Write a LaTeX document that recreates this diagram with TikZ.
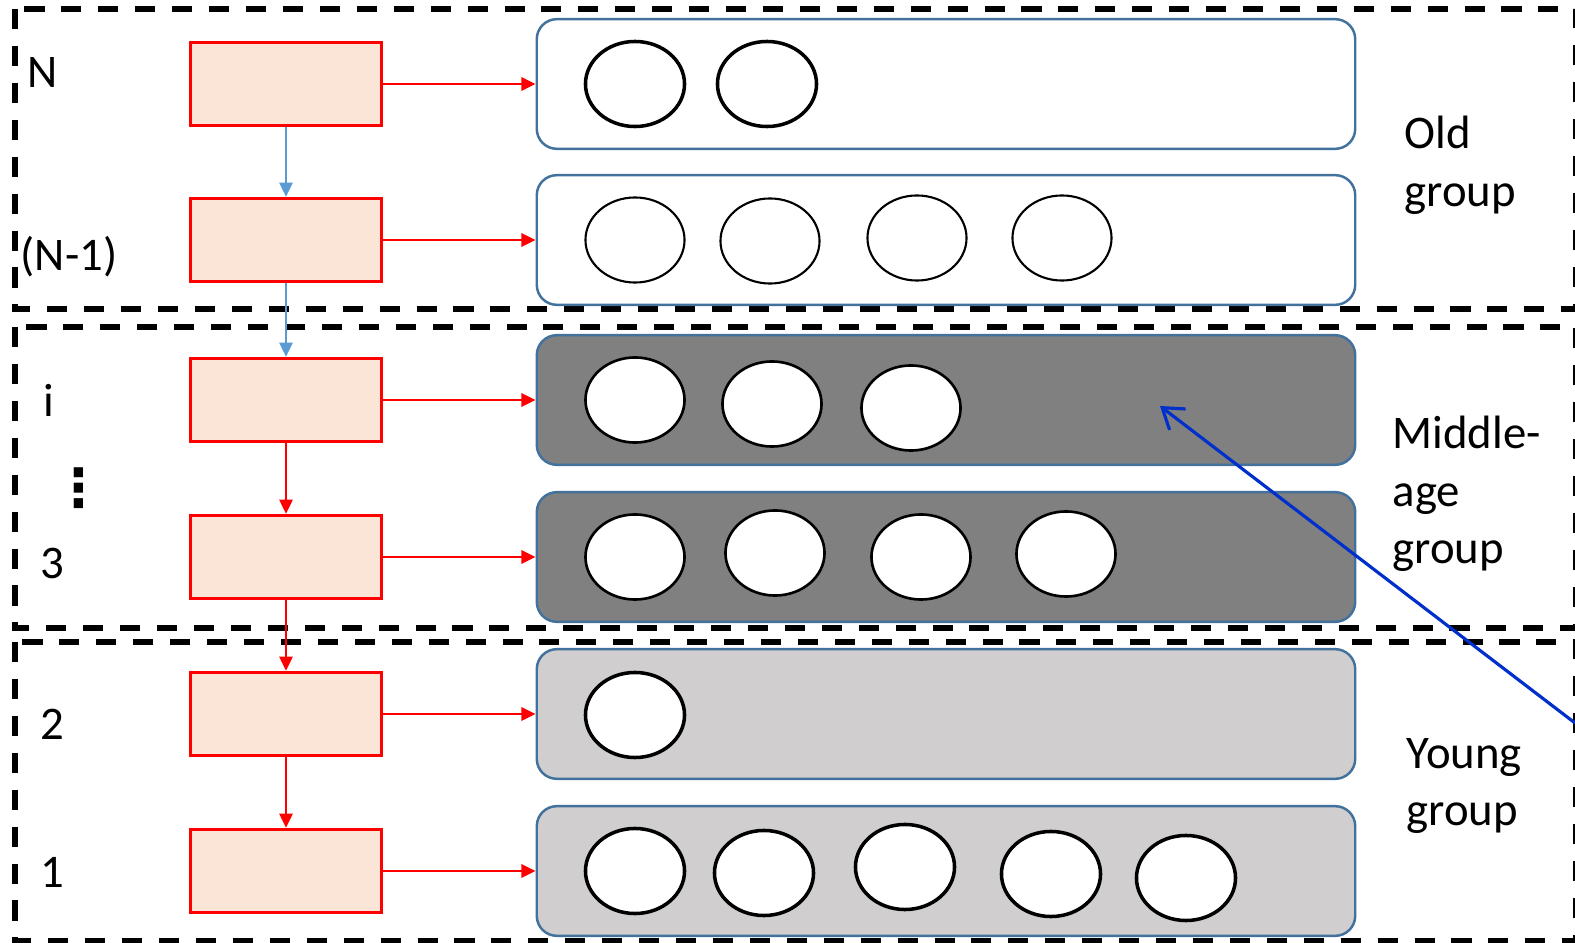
\documentclass[tikz,border=0pt]{standalone}
\usepackage{fontspec}
\setmainfont{Carlito}
\newfontfamily\symfont{DejaVu Sans}
\usetikzlibrary{arrows.meta,shapes.geometric}
\definecolor{boxfill}{RGB}{251,229,214}
\definecolor{rowborder}{RGB}{65,113,156}
\definecolor{midgray}{RGB}{128,128,128}
\definecolor{younggray}{RGB}{208,206,206}
\definecolor{vblue}{RGB}{91,155,213}
\definecolor{longblue}{RGB}{0,48,204}
\begin{document}
\begin{tikzpicture}[x=0.01cm,y=-0.01cm,
  grpbox/.style={draw=black,line width=1.45pt,dash pattern=on 5.7pt off 4.8pt},
  redbox/.style={draw=red,fill=boxfill,line width=0.85pt,minimum width=1.91cm,minimum height=0.835cm,inner sep=0pt},
  rowbox/.style={draw=rowborder,line width=0.7pt,rounded corners=5.7pt,minimum width=8.18cm,minimum height=1.296cm,inner sep=0pt},
  oldrow/.style={rowbox,fill=white},
  midrow/.style={rowbox,fill=midgray},
  youngrow/.style={rowbox,fill=younggray},
  cell/.style={ellipse,draw=black,fill=white,minimum width=0.99cm,minimum height=0.85cm,inner sep=0pt,line width=0.75pt},
  thickcell/.style={cell,line width=1pt},
  thincell/.style={cell,line width=0.6pt},
  lbl/.style={font=\fontsize{13.3}{16.4}\selectfont,inner sep=0pt},
  grplbl/.style={lbl,anchor=west,align=left},
  redarrow/.style={draw=red,line width=0.45pt,-{Triangle[length=4pt,width=3.8pt]}},
  bluearrow/.style={draw=vblue,line width=0.45pt,-{Triangle[length=4pt,width=3.8pt]}},
  longarrow/.style={draw=longblue,line width=0.9pt,-{Straight Barb[length=5.5pt,width=7.5pt]}}
]
\useasboundingbox (0,0) rectangle (1575,943);

% group boxes
\draw[grpbox] (15,9) rectangle (1576,309);
\draw[grpbox] (15,327) rectangle (1576,628);
\draw[grpbox] (15,642) rectangle (1576,941);

% red boxes
\node[redbox] (bN)  at (286,84)  {};
\node[redbox] (bN1) at (286,240) {};
\node[redbox] (bi)  at (286,400) {};
\node[redbox] (b3)  at (286,557) {};
\node[redbox] (b2)  at (286,714) {};
\node[redbox] (b1)  at (286,871) {};

% row boxes
\node[oldrow]   (rN)  at (946,84)  {};
\node[oldrow]   (rN1) at (946,240) {};
\node[midrow]   (ri)  at (946,400) {};
\node[midrow]   (r3)  at (946,557) {};
\node[youngrow] (r2)  at (946,714) {};
\node[youngrow] (r1)  at (946,871) {};

% cells
\node[thickcell] (cN1) at (635,84) {};
\node[thickcell] (cN2) at (767,84) {};

\node[thincell] (cM1) at (635,240) {};
\node[thincell] (cM2) at (770,241) {};
\node[thincell] (cM3) at (917,238) {};
\node[thincell] (cM4) at (1062,238) {};

\node[cell] (ci1) at (635,400) {};
\node[cell] (ci2) at (772,404) {};
\node[cell] (ci3) at (911,408) {};

\node[cell] (c31) at (635,557) {};
\node[cell] (c32) at (775,553) {};
\node[cell] (c33) at (921,557) {};
\node[cell] (c34) at (1066,554) {};

\node[thickcell] (c21) at (635,715) {};

\node[thickcell] (c11) at (635,871) {};
\node[thickcell] (c12) at (764,873) {};
\node[thickcell] (c13) at (905,867) {};
\node[thickcell] (c14) at (1051,874) {};
\node[thickcell] (c15) at (1186,878) {};

% horizontal arrows
\draw[redarrow] (bN.east)  -- (rN.west);
\draw[redarrow] (bN1.east) -- (rN1.west);
\draw[redarrow] (bi.east)  -- (ri.west);
\draw[redarrow] (b3.east)  -- (r3.west);
\draw[redarrow] (b2.east)  -- (r2.west);
\draw[redarrow] (b1.east)  -- (r1.west);

% vertical arrows
\draw[bluearrow] (bN.south)  -- (bN1.north);
\draw[bluearrow] (bN1.south) -- (bi.north);
\draw[redarrow]  (bi.south)  -- (b3.north);
\draw[redarrow]  (b3.south)  -- (b2.north);
\draw[redarrow]  (b2.south)  -- (b1.north);

% left labels
\node[lbl] (lN)  at (43,73)  {N};
\node[lbl] (lN1) at (69,257) {(N-1)};
\node[lbl] (li)  at (48.5,400) {i};
\node[inner sep=0pt,font=\symfont\bfseries\fontsize{15}{15}\selectfont] (ldots) at (79,488) {⋮};
\node[lbl] (l3)  at (52,563) {3};
\node[lbl] (l2)  at (52,724) {2};
\node[lbl] (l1)  at (52,872) {1};

% group labels
\node[grplbl] (gOld) at (1404,165) {Old\\group};
\node[grplbl] (gMid) at (1392,494) {Middle-\\age\\group};
\node[grplbl] (gYoung) at (1406,786) {Young\\group};

% long blue arrow
\coordinate (aStart) at (1575,723);
\coordinate (aEnd) at (1160,406);
\draw[longarrow] (aStart) -- (aEnd);
\end{tikzpicture}
\end{document}
